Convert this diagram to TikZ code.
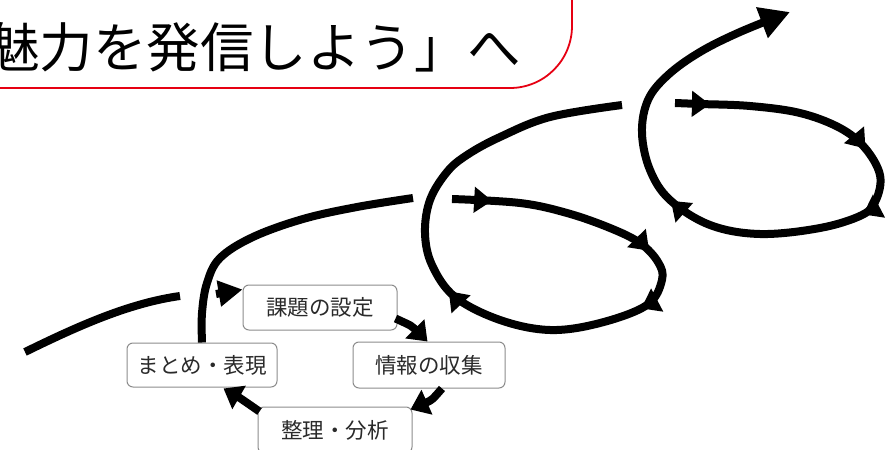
\documentclass[tikz,border=0pt]{standalone}
\usepackage{fontspec}
\setmainfont{Noto Sans CJK JP}
\usetikzlibrary{arrows.meta,decorations.markings,calc}
\definecolor{boxgray}{HTML}{8C8C8C}
\definecolor{txtgray}{HTML}{2A2A2A}
\definecolor{titlered}{HTML}{E60012}
\newcommand{\tipmark}{\arrow{Triangle[length=18pt,width=25pt]}}
\begin{document}
\begin{tikzpicture}[x=1pt,y=-1pt,
  flow/.style={line width=8pt, black},
  box/.style={draw=boxgray, line width=1pt, rounded corners=6pt, fill=white,
    text=txtgray, font=\fontsize{21.5}{21.5}\selectfont, inner sep=0pt},
  headtip/.style={-{Triangle[length=18pt,width=26pt]}},
]
\useasboundingbox (0,0) rectangle (887,450);
\clip (0,0) rectangle (887,450);

% title box
\draw[titlered, line width=1.8pt, rounded corners=62pt] (-80,-80) rectangle (572,88);
\node[anchor=west, inner sep=0pt, font=\fontsize{53.5}{53.5}\selectfont] (title) at (-14,47) {魅力を発信しよう」へ};

% boxes
\node[box, minimum width=154pt, minimum height=45pt] (kadai)  at (320,307.5) {課題の設定};
\node[box, minimum width=152pt, minimum height=46pt] (jouhou) at (429,365) {情報の収集};
\node[box, minimum width=150pt, minimum height=44pt] (matome) at (202,365) {まとめ・表現};
\node[box, minimum width=154pt, minimum height=46pt] (seiri)  at (335,430) {整理・分析};

% free ends of the spiral
\coordinate (leadA) at (25,352);
\coordinate (leadB) at (180,296);
\coordinate (stubA) at (216,294);
\coordinate (oneEnd) at (413,198);
\coordinate (twoStart) at (452,199);
\coordinate (twoEnd) at (622,105);
\coordinate (threeStart) at (675,103);
\coordinate (threeEnd) at (790,12);

% lead-in line
\draw[flow] (leadA) .. controls (80,325) and (130,303) .. (leadB);

% stub arrow into the first box
\draw[flow, -{Triangle[length=24pt,width=25pt]}] (stubA) -- ($(kadai.north west)+(0,5)$);

% small cycle
\draw[flow, headtip] ($(kadai.south east)+(-2,-12)$) .. controls (412,326) .. ($(jouhou.north west)+(75,0)$);
\draw[flow, headtip] ($(jouhou.south)+(13,0)$) .. controls (432,400) .. ($(seiri.north east)+(-2,3)$);
\draw[flow, headtip] ($(seiri.north west)+(2,5)$) .. controls (240,398) .. ($(matome.south east)+(-54,1)$);

% first big curve
\draw[flow] plot[smooth, tension=0.6] coordinates {(matome.north) (202,313) (207,283) (220,258) (253,237) (303,219) (357,207) (oneEnd)};

% second loop
\draw[flow, postaction={decorate}, decoration={markings,
    mark=at position 0.050 with {\tipmark},
    mark=at position 0.258 with {\tipmark},
    mark=at position 0.345 with {\tipmark},
    mark=at position 0.600 with {\tipmark}}]
  plot[smooth, tension=0.6] coordinates {(twoStart) (520,203) (567,213) (610,228) (640,243) (658,262) (662,280) (647,305) (600,323) (550,330) (500,320) (455,297) (432,265) (425,233) (430,200) (447,172) (467,155) (500,137) (550,117) (twoEnd)};

% third loop
\draw[flow, -{Triangle[length=30pt,width=31pt]}, postaction={decorate}, decoration={markings,
    mark=at position 0.046 with {\tipmark},
    mark=at position 0.265 with {\tipmark},
    mark=at position 0.365 with {\tipmark},
    mark=at position 0.632 with {\tipmark}}]
  plot[smooth, tension=0.6] coordinates {(threeStart) (700,104) (750,106) (800,113) (840,128) (865,148) (880,175) (876,200) (862,215) (820,228) (760,234) (710,225) (670,200) (650,170) (642,133) (648,100) (668,75) (700,52) (740,32) (threeEnd)};
\end{tikzpicture}
\end{document}
